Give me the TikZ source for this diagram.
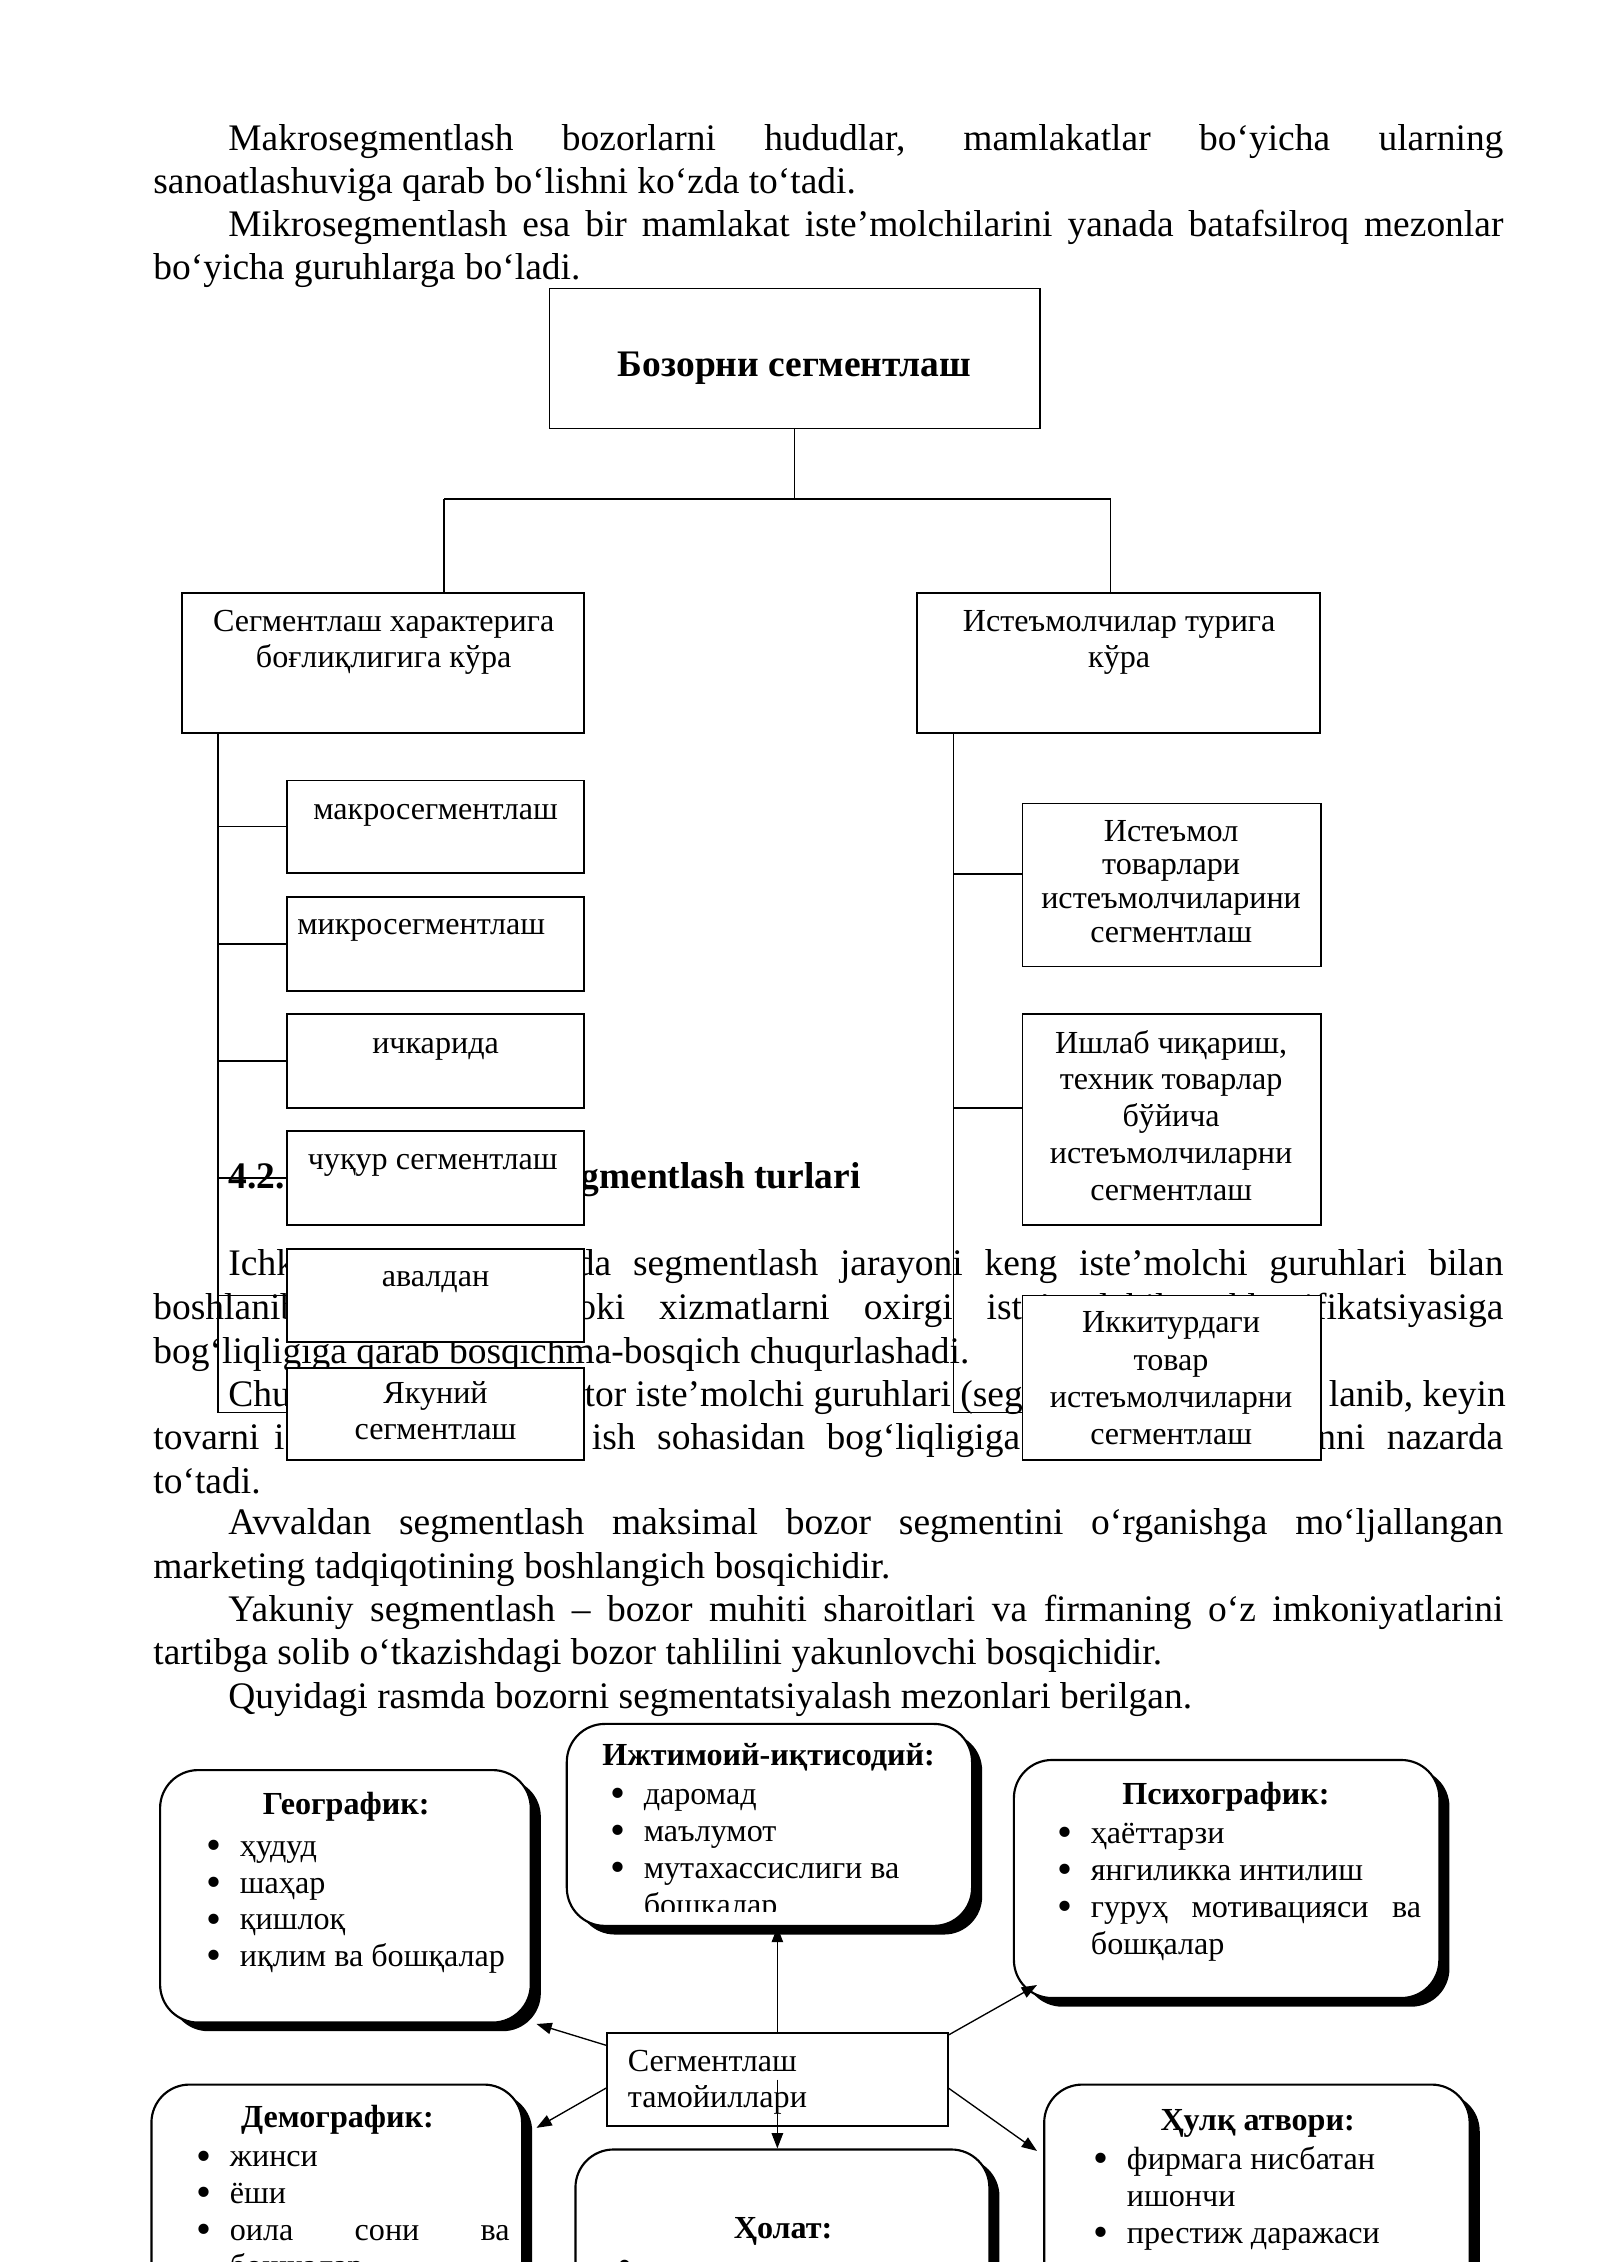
\documentclass[tikz,border=0pt]{standalone}
\usepackage{fontspec}
\setmainfont{Liberation Serif}
\usetikzlibrary{fit,arrows.meta}
\newcommand\lnsL[1]{\begin{tabular}[t]{@{}l@{}}#1\end{tabular}}
\newcommand\lnsC[1]{\begin{tabular}[t]{@{}c@{}}#1\end{tabular}}
\newcommand\bl{\makebox[4.36mm][l]{\raisebox{-1.2pt}{\fontsize{16pt}{0pt}\selectfont •}}}
\newcommand\indt{\hspace*{4.36mm}}
\begin{document}
\begin{tikzpicture}[x=0.18936mm,y=-0.189413mm,
  body/.style={font=\fontsize{14pt}{16.2pt}\selectfont,inner sep=0pt,anchor=base west},
  bodyb/.style={body,font=\fontsize{14pt}{16.2pt}\selectfont\bfseries},
  box/.style={draw,line width=0.7pt,fill=white,inner sep=0pt},
  blab/.style={font=\fontsize{12pt}{13.4pt}\selectfont,inner sep=0pt,anchor=base},
  conn/.style={line width=0.6pt},
  rbox/.style={draw,line width=0.8pt,fill=white,rounded corners=5mm,inner sep=0pt},
  shad/.style={fill=black,rounded corners=5mm},
  ttl/.style={font=\fontsize{12pt}{13.4pt}\selectfont\bfseries,inner sep=0pt,anchor=base},
  lst/.style={font=\fontsize{12pt}{13.7pt}\selectfont,inner sep=0pt,anchor=base west},
  arr/.style={line width=0.5pt,-{Triangle[length=2mm,width=1.5mm]}},
]
\path[use as bounding box] (0,0) rectangle (1109,1568);
\clip (0,0) rectangle (1109,1568);
\fill[white] (0,0) rectangle (1109,1568);
% ---------- body text ----------
\node[body] (p1) at (158,104) {\makebox[167.39mm][s]{Makrosegmentlash bozorlarni hududlar, mamlakatlar bo‘yicha ularning}};
\node[body] (p2) at (106,134) {sanoatlashuviga qarab bo‘lishni ko‘zda to‘tadi.};
\node[body] (p3) at (158,164) {\makebox[167.39mm][s]{Mikrosegmentlash esa bir mamlakat iste’molchilarini yanada batafsilroq mezonlar}};
\node[body] (p4) at (106,194) {bo‘yicha guruhlarga bo‘ladi.};
\node[bodyb] (h1) at (158,824) {4.2.};
\node[bodyb,anchor=base east] (h2) at (597,824) {gmentlash turlari};
\node[body] (q1) at (158,884) {Ichki};
\node[body] (q2) at (399,884) {\makebox[121.76mm][s]{da segmentlash jarayoni keng iste’molchi guruhlari bilan}};
\node[body] (q3) at (106,915) {boshlanib,};
\node[body] (q4) at (387,915) {\makebox[124.03mm][s]{yoki xizmatlarni oxirgi iste’molchilar klassifikatsiyasiga}};
\node[body] (q9) at (106,945) {bog‘liqligiga qarab bosqichma-bosqich chuqurlashadi.};
\node[body] (q10) at (158,975) {Chuqur};
\node[body] (q11) at (405,975) {tor iste’molchi guruhlari (segmentlari)dan};
\node[body] (q12) at (921,975) {lanib, keyin};
\node[body] (q13) at (106,1005) {\makebox[17.23mm][s]{tovarni i}};
\node[body] (q14) at (410,1005) {\makebox[56.24mm][s]{ish sohasidan bog‘liqligiga}};
\node[body] (q15) at (913,1005) {\makebox[24.43mm][s]{nni nazarda}};
\node[body] (q16) at (106,1035) {to‘tadi.};
\node[body] (p5) at (158,1064) {\makebox[167.39mm][s]{Avvaldan segmentlash maksimal bozor segmentini o‘rganishga mo‘ljallangan}};
\node[body] (p6) at (106,1094) {marketing tadqiqotining boshlangich bosqichidir.};
\node[body] (p7) at (158,1124) {\makebox[167.39mm][s]{Yakuniy segmentlash – bozor muhiti sharoitlari va firmaning o‘z imkoniyatlarini}};
\node[body] (p8) at (106,1154) {tartibga solib o‘tkazishdagi bozor tahlilini yakunlovchi bosqichidir.};
\node[body] (p9) at (158,1184) {Quyidagi rasmda bozorni segmentatsiyalash mezonlari berilgan.};
% ---------- tree ----------
\node[box,fit={(381,200) (721,297)}] (top) {};
\node[font=\fontsize{14pt}{16pt}\selectfont\bfseries,inner sep=0pt,anchor=base] (topt) at (551,261) {Бозорни сегментлаш};
\coordinate (jl) at (308,346);
\coordinate (jr) at (770,346);
\node[box,fit={(126,411) (405,508)}] (lb) {};
\node[box,fit={(636,411) (915,508)}] (rb) {};
\draw[conn] (top.south) -- (top.south |- jl);
\draw[conn] (jl) -- (jr);
\draw[conn] (jl) -- (jl |- lb.north);
\draw[conn] (jr) -- (jr |- rb.north);
\node[blab] (lbt) at (266,438) {\lnsC{Сегментлаш характерига\\боғлиқлигига кўра}};
\node[blab] (rbt) at (776,438) {\lnsC{Истеъмолчилар турига\\кўра}};
% left spine
\coordinate (ls1) at (151,508);
\coordinate (ls2) at (151,979);
\node[box,fit={(199,541) (405,605)}] (c1) {};
\node[box,fit={(199,622) (405,687)}] (c2) {};
\node[box,fit={(199,703) (405,768)}] (c3) {};
\node[box,fit={(199,784) (405,849)}] (c4) {};
\node[box,fit={(199,866) (405,930)}] (c5) {};
\node[box,fit={(199,948) (405,1012)}] (c6) {};
\draw[conn] (ls1) -- (ls2) -- (c6.west |- ls2);
\foreach \c in {c1,c2,c3,c4,c5} \draw[conn] (ls1 |- \c.west) -- (\c.west);
\node[blab] (c1t) at (302,568) {макросегментлаш};
\node[blab] (c2t) at (292,648) {микросегментлаш};
\node[blab] (c3t) at (302,730) {ичкарида};
\node[blab] (c4t) at (300,811) {чуқур сегментлаш};
\node[blab] (c5t) at (302,892) {авалдан};
\node[blab] (c6t) at (302,973) {\lnsC{Якуний\\сегментлаш}};
% right spine
\coordinate (rs1) at (661,508);
\coordinate (rs2) at (661,979);
\coordinate (rb1) at (661,606);
\coordinate (rb2) at (661,768);
\node[box,fit={(709,557) (916,670)}] (r1) {};
\node[box,fit={(709,703) (916,849)}] (r2) {};
\node[box,fit={(709,898) (916,1012)}] (r3) {};
\draw[conn] (rs1) -- (rs2) -- (r3.west |- rs2);
\draw[conn] (rb1) -- (r1.west |- rb1);
\draw[conn] (rb2) -- (r2.west |- rb2);
\node[blab,font=\fontsize{12pt}{12.6pt}\selectfont] (r1t) at (812,583) {\lnsC{Истеъмол\\товарлари\\истеъмолчиларини\\сегментлаш}};
\node[blab,font=\fontsize{12pt}{13.75pt}\selectfont] (r2t) at (812,730) {\lnsC{Ишлаб чиқариш,\\техник товарлар\\бўйича\\истеъмолчиларни\\сегментлаш}};
\node[blab,font=\fontsize{12pt}{13.85pt}\selectfont] (r3t) at (812,924) {\lnsC{Иккитурдаги\\товар\\истеъмолчиларни\\сегментлаш}};
% ---------- bottom diagram ----------
\fill[shad] (118,1233) rectangle (375,1408);
\fill[shad] (400,1201) rectangle (681,1341);
\fill[shad] (710,1226) rectangle (1005,1391);
\fill[shad] (112,1451) rectangle (369,1600);
\fill[shad] (406,1496) rectangle (693,1600);
\fill[shad] (731,1451) rectangle (1026,1600);
\node[rbox,fit={(111,1227) (368,1402)}] (geo) {};
\node[rbox,fit={(393,1195) (674,1335)}] (ijt) {};
\node[rbox,fit={(703,1220) (998,1385)}] (psi) {};
\node[rbox,fit={(105,1445) (362,1594)}] (dem) {};
\node[rbox,fit={(399,1490) (686,1594)}] (hol) {};
\node[rbox,fit={(724,1445) (1019,1594)}] (hul) {};
\node[box,fit={(421,1409) (657,1474)}] (ctr) {};
\node[blab,anchor=base west] (ctrt) at (435,1436) {\lnsL{Сегментлаш\\тамойиллари}};
% titles
\node[ttl] (geot) at (240,1258) {Географик:};
\node[ttl] (ijtt) at (533,1224) {Ижтимоий-иқтисодий:};
\node[ttl] (psit) at (850,1251) {Психографик:};
\node[ttl] (demt) at (234,1475) {Демографик:};
\node[ttl] (holt) at (543,1552) {Ҳолат:};
\node[ttl] (hult) at (872,1477) {Ҳулқ атвори:};
% lists
\node[lst] (geol) at (143,1287) {\lnsL{\bl ҳудуд\\\bl шаҳар\\\bl қишлоқ\\\bl иқлим ва бошқалар}};
\begin{scope}
\clip (395,1200) rectangle (672,1325);
\node[lst,font=\fontsize{12pt}{13.8pt}\selectfont] (ijtl) at (423,1251) {\lnsL{\bl даромад\\\bl маълумот\\\bl мутахассислиги ва\\\indt бошқалар}};
\end{scope}
\node[lst,font=\fontsize{12pt}{13.8pt}\selectfont] (psil) at (733,1278) {\lnsL{\bl ҳаёттарзи\\\bl янгиликка интилиш\\\bl \makebox[43.36mm][s]{гуруҳ мотивацияси ва}\\\indt бошқалар}};
\node[lst] (deml) at (136,1502) {\lnsL{\bl жинси\\\bl ёши\\\bl \makebox[36.74mm][s]{оила сони ва}\\\indt бошқалар}};
\node[lst] (holl) at (428,1578) {\bl};
\node[lst] (hull) at (758,1504) {\lnsL{\bl фирмага нисбатан\\\indt ишончи\\\bl престиж даражаси}};
% arrows
\coordinate (a1s) at (421,1418);
\coordinate (a1e) at (372,1403);
\coordinate (a2s) at (421,1447);
\coordinate (a2e) at (372,1475);
\coordinate (a3s) at (657,1411);
\coordinate (a3e) at (719,1376);
\coordinate (a4s) at (657,1447);
\coordinate (a4e) at (719,1491);
\draw[arr] (ctr.north) -- (ctr.north |- ijt.south);
\draw[arr] (ctr.center) -- (ctr.center |- hol.north);
\draw[arr] (a1s) -- (a1e);
\draw[arr] (a2s) -- (a2e);
\draw[arr] (a3s) -- (a3e);
\draw[arr] (a4s) -- (a4e);
\end{tikzpicture}
\end{document}
